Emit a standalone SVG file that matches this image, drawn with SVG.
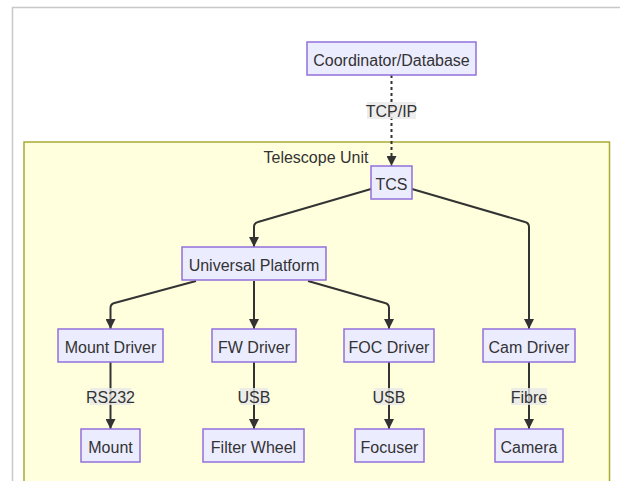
<svg xmlns="http://www.w3.org/2000/svg" width="620" height="481" viewBox="0 0 620 481">
<style>
.node rect{fill:#ECECFF;stroke:#9370DB;stroke-width:1.5}
text{font-family:"Liberation Sans",Arial,sans-serif;font-size:16px;fill:#333;text-anchor:middle}
.edge{fill:none;stroke:#333;stroke-width:2}
.dotted{stroke-dasharray:3 3}
.lbl{fill:#e8e8e8;opacity:0.8}
</style>
<defs>
<marker id="arr" markerUnits="userSpaceOnUse" markerWidth="10" markerHeight="10" refX="10" refY="5" orient="auto">
<path d="M0,0 L10,5 L0,10 z" fill="#333"/>
</marker>
</defs>
<rect width="620" height="481" fill="#fff"/>
<path d="M12.5,481 V7.5 H620" fill="none" stroke="#c8c8c8" stroke-width="1.5"/>
<g id="cluster-telescope-unit">
<rect x="24" y="142" width="585.5" height="345" fill="#ffffde" stroke="#aaaa33" stroke-width="1.5"/>
<text x="316" y="163">Telescope Unit</text>
</g>
<g id="connectors">
<path class="edge dotted" d="M391.5,75 V166" marker-end="url(#arr)"/>
<path class="edge" d="M371,189 L258,222 Q254,223 254,227 V247" marker-end="url(#arr)"/>
<path class="edge" d="M412,189 L525,222 Q529,223 529,227 V329" marker-end="url(#arr)"/>
<path class="edge" d="M196,281 L114.5,303 Q110.5,304 110.5,308 V329" marker-end="url(#arr)"/>
<path class="edge" d="M254,281 V329" marker-end="url(#arr)"/>
<path class="edge" d="M308,281 L385,303 Q389,304 389,308 V329" marker-end="url(#arr)"/>
<path class="edge" d="M110.5,362 V429" marker-end="url(#arr)"/>
<path class="edge" d="M254,362 V429" marker-end="url(#arr)"/>
<path class="edge" d="M389,362 V429" marker-end="url(#arr)"/>
<path class="edge" d="M529,362 V429" marker-end="url(#arr)"/>
<g id="edge-labels">
<rect class="lbl" x="367" y="102" width="49" height="17"/>
<text x="391.5" y="116.5">TCP/IP</text>
<rect class="lbl" x="90" y="388" width="41" height="17"/>
<text x="110.5" y="402.5">RS232</text>
<rect class="lbl" x="240" y="388" width="28" height="17"/>
<text x="254" y="402.5">USB</text>
<rect class="lbl" x="375" y="388" width="28" height="17"/>
<text x="389" y="402.5">USB</text>
<rect class="lbl" x="511" y="388" width="36" height="17"/>
<text x="529" y="402.5">Fibre</text>
</g>
</g>
<g id="coordinator" class="node"><rect x="307" y="42" width="169" height="33"/><text x="391.5" y="65.5">Coordinator/Database</text></g>
<g id="tcs" class="node"><rect x="371" y="166" width="41" height="33"/><text x="391.5" y="189.5">TCS</text></g>
<g id="universal-platform" class="node"><rect x="182" y="247" width="144" height="33"/><text x="254" y="270.5">Universal Platform</text></g>
<g id="mount-driver" class="node"><rect x="58" y="329" width="105" height="33"/><text x="110.5" y="352.5">Mount Driver</text></g>
<g id="fw-driver" class="node"><rect x="212" y="329" width="84" height="33"/><text x="254" y="352.5">FW Driver</text></g>
<g id="foc-driver" class="node"><rect x="344" y="329" width="90" height="33"/><text x="389" y="352.5">FOC Driver</text></g>
<g id="cam-driver" class="node"><rect x="483" y="329" width="92" height="33"/><text x="529" y="352.5">Cam Driver</text></g>
<g id="mount" class="node"><rect x="81" y="429" width="59" height="33"/><text x="110.5" y="452.5">Mount</text></g>
<g id="filter-wheel" class="node"><rect x="203" y="429" width="101" height="33"/><text x="253.5" y="452.5">Filter Wheel</text></g>
<g id="focuser" class="node"><rect x="355" y="429" width="69" height="33"/><text x="389.5" y="452.5">Focuser</text></g>
<g id="camera" class="node"><rect x="495" y="429" width="68" height="33"/><text x="529" y="452.5">Camera</text></g>
</svg>
